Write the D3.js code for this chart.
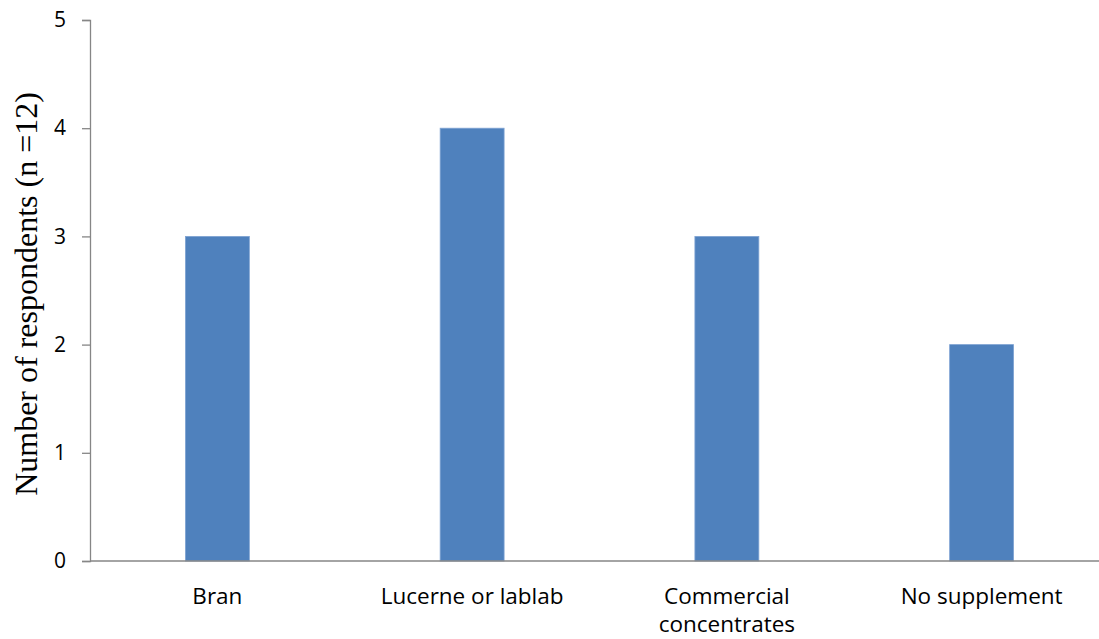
<!DOCTYPE html>
<html>
<head>
<meta charset="utf-8">
<script src="https://cdn.jsdelivr.net/npm/d3@7"></script>
<style>
  html, body { margin: 0; padding: 0; background: #fff; }
  svg { display: block; }
</style>
</head>
<body>
<svg id="chart" width="1099" height="639"></svg>
<script>
// Supplement types fed and respondents reporting each
const categories = [["Bran"], ["Lucerne or lablab"], ["Commercial", "concentrates"], ["No supplement"]];
const respondents = [3, 4, 3, 2];
const yTicks = [0, 1, 2, 3, 4, 5];

const svg = d3.select("#chart");
const plotLeft = 90, plotRight = 1109, plotTop = 20, plotBottom = 561;

const x = d3.scaleBand()
  .domain(categories.map((c, i) => i))
  .range([plotLeft, plotRight])
  .paddingInner(0.749)
  .paddingOuter(0.3745);

const y = d3.scaleLinear().domain([0, 5]).range([plotBottom, plotTop]);

const labelFont = "'Open Sans', sans-serif";

// Bars
svg.append("g").selectAll("rect")
  .data(respondents)
  .join("rect")
  .attr("x", (d, i) => x(i))
  .attr("y", d => y(d))
  .attr("width", x.bandwidth())
  .attr("height", d => y(0) - y(d))
  .attr("fill", "#4F81BD")
  .attr("stroke", "#7FA3D3")
  .attr("stroke-width", 0.8);

// Y axis
const yAxis = svg.append("g")
  .attr("transform", `translate(${plotLeft},0)`)
  .call(d3.axisLeft(y).tickValues(yTicks).tickSize(8).tickPadding(16).tickFormat(d3.format("d")));
yAxis.select(".domain").attr("stroke", "#868686").attr("stroke-width", 1.3);
yAxis.selectAll(".tick line").attr("stroke", "#868686").attr("stroke-width", 1.3);
yAxis.selectAll(".tick text")
  .attr("font-family", labelFont)
  .attr("font-size", 21)
  .attr("fill", "#000");

// X axis line
svg.append("line")
  .attr("x1", plotLeft).attr("x2", 1099)
  .attr("y1", y(0)).attr("y2", y(0))
  .attr("stroke", "#868686").attr("stroke-width", 1.3);

// Category labels
const xl = svg.append("g").selectAll("text")
  .data(categories)
  .join("text")
  .attr("x", (d, i) => x(i) + x.bandwidth() / 2)
  .attr("y", 604)
  .attr("text-anchor", "middle")
  .attr("font-family", labelFont)
  .attr("font-size", 22.5)
  .attr("fill", "#000");
xl.each(function(lines) {
  const t = d3.select(this);
  lines.forEach((line, k) => {
    t.append("tspan")
      .attr("x", t.attr("x"))
      .attr("dy", k === 0 ? 0 : 28)
      .text(line);
  });
});

// Y axis title
svg.append("text")
  .attr("transform", "translate(37,294) rotate(-90)")
  .attr("text-anchor", "middle")
  .attr("font-family", "'Liberation Serif', 'Times New Roman', serif")
  .attr("font-size", 32)
  .attr("fill", "#000")
  .text("Number of respondents (n =12)");
</script>
</body>
</html>
